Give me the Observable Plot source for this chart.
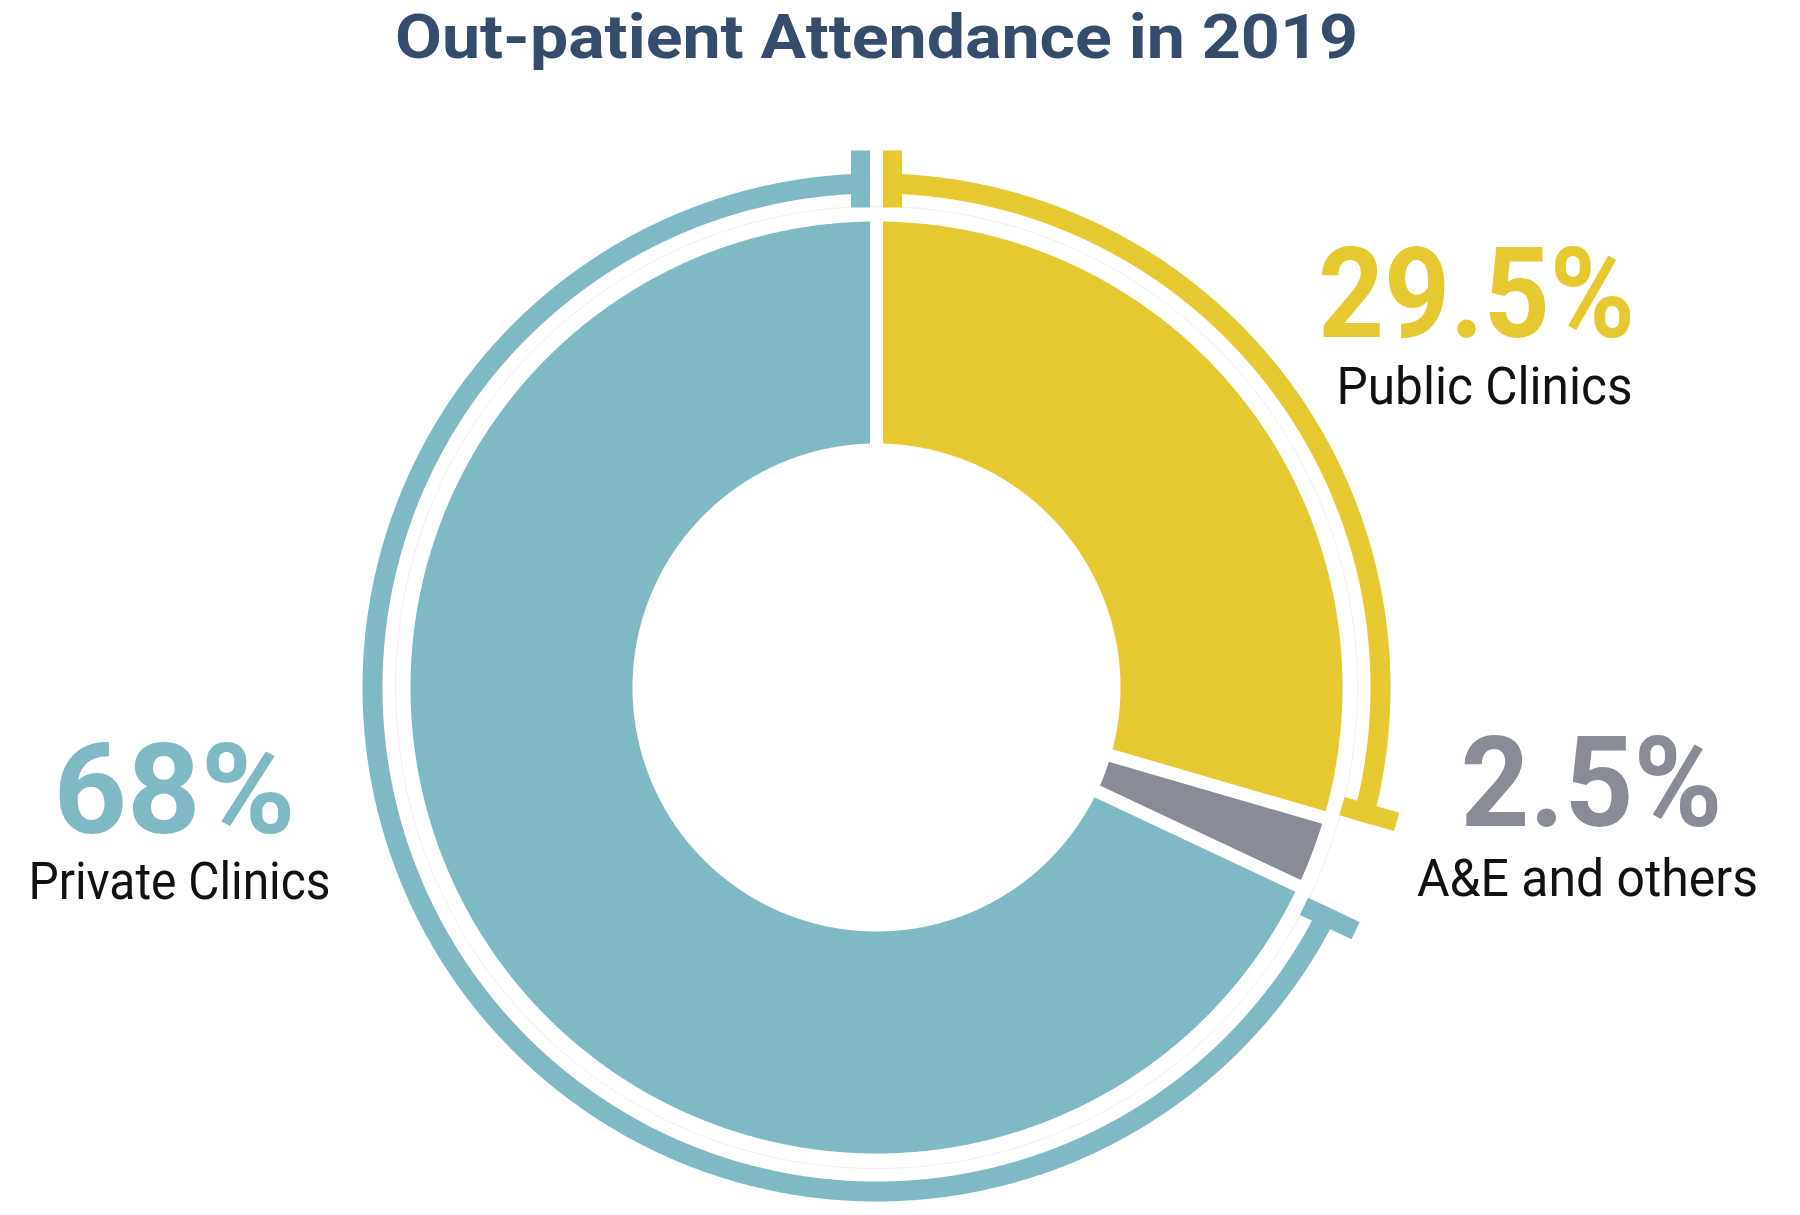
<!DOCTYPE html>
<html>
<head>
<meta charset="utf-8">
<script src="https://cdn.jsdelivr.net/npm/d3@7"></script>
<script src="https://cdn.jsdelivr.net/npm/@observablehq/plot@0.6"></script>
<style>
  html, body { margin: 0; padding: 0; background: #ffffff; }
  #wrap { width: 1800px; height: 1215px; overflow: hidden; background: #ffffff; }
  #title { position: relative; width: 1800px; height: 90px; }
  #titleText { position: absolute; left: 395px; top: 4px; font-family: Roboto, "DejaVu Sans", sans-serif;
    font-weight: 700; font-size: 61px; line-height: 1.1; white-space: nowrap; color: #364c6c; transform-origin: 0 0; }
  #chart svg { display: block; }
</style>
</head>
<body>
<div id="wrap">
  <div id="title"><span id="titleText"></span></div>
  <div id="chart"></div>
</div>
<script>
// ---------- data ----------
const titleText = "Out-patient Attendance in 2019";
const categories = ["Public Clinics", "A&E and others", "Private Clinics"];
const shares = [29.5, 2.5, 68];
const palette = ["#e6c831", "#898c97", "#7fbac4"];
const ringed = [true, false, true];

// ---------- layout (pixels, chart centre at origin, y up) ----------
const W = 1800, TITLE_H = 90, H = 1215 - TITLE_H;
const CX = 876, CY = 597;                  // centre inside the svg
const R_IN = 244, R_OUT = 466;             // donut
const RING_IN = 494, RING_OUT = 514;       // outer band
const HALO = 481;                          // faint guide circle
const TICK_IN = 480, TICK_OUT = 537, TICK_W = 19;
const HALF_GAP = 6.5;
const pctLayout = [[600, 351], [715, -138], [-702, -145]];
const nameLayout = [[608, 284], [711, -208], [-697, -211]];
const pctWidths = [317, 262, 242];
const nameWidths = [296, 341, 302];
const TITLE_W = 963;

// ---------- title ----------
const tspan = document.getElementById("titleText");
tspan.textContent = titleText;
const tw = tspan.getBoundingClientRect().width;
tspan.style.transform = `scaleX(${TITLE_W / tw})`;

// ---------- geometry from data ----------
const total = d3.sum(shares);
const starts = d3.cumsum([0, ...shares.slice(0, -1)]).map(v => v / total * 2 * Math.PI);
const ends = starts.map((s, i) => s + shares[i] / total * 2 * Math.PI);

function band(a0, a1, rIn, rOut) {
  const pts = [];
  const oo = Math.asin(HALF_GAP / rOut), oi = Math.asin(HALF_GAP / rIn);
  const so = a0 + oo, eo = a1 - oo, si = a0 + oi, ei = a1 - oi;
  const no = Math.max(2, Math.ceil((eo - so) / (Math.PI / 720)));
  const ni = Math.max(2, Math.ceil((ei - si) / (Math.PI / 720)));
  for (let k = 0; k <= no; k++) { const t = so + (eo - so) * k / no; pts.push([rOut * Math.sin(t), rOut * Math.cos(t)]); }
  for (let k = ni; k >= 0; k--) { const t = si + (ei - si) * k / ni; pts.push([rIn * Math.sin(t), rIn * Math.cos(t)]); }
  return pts;
}
function tick(a, side) {
  const u = [Math.sin(a), Math.cos(a)], v = [Math.cos(a), -Math.sin(a)];
  const s1 = side * HALF_GAP, s2 = side * (HALF_GAP + TICK_W);
  return [[TICK_IN, s1], [TICK_OUT, s1], [TICK_OUT, s2], [TICK_IN, s2]]
    .map(([r, s]) => [r * u[0] + s * v[0], r * u[1] + s * v[1]]);
}

const rows = [];
categories.forEach((cat, i) => {
  const add = (id, pts) => pts.forEach(([x, y]) => rows.push({id, cat, x, y}));
  add(`slice-${i}`, band(starts[i], ends[i], R_IN, R_OUT));
  if (ringed[i]) {
    add(`ring-${i}`, band(starts[i], ends[i], RING_IN, RING_OUT));
    add(`tickA-${i}`, tick(starts[i], 1));
    add(`tickB-${i}`, tick(ends[i], -1));
  }
});
const halo = d3.range(0, 361).map(d => ({x: HALO * Math.sin(d * Math.PI / 180), y: HALO * Math.cos(d * Math.PI / 180)}));

const idx = d3.range(categories.length);

const chart = Plot.plot({
  width: W,
  height: H,
  margin: 0,
  x: {domain: [-CX, W - CX], range: [0, W], axis: null},
  y: {domain: [CY - H, CY], range: [H, 0], axis: null},
  color: {domain: categories, range: palette},
  style: {background: "#ffffff", fontFamily: "Roboto, sans-serif"},
  marks: [
    Plot.line(halo, {x: "x", y: "y", stroke: "#efefef", strokeWidth: 1, curve: "linear"}),
    Plot.line(rows, {x: "x", y: "y", z: "id", fill: "cat", stroke: "none", curve: "linear"}),
    Plot.text(idx, {
      x: i => pctLayout[i][0], y: i => pctLayout[i][1],
      text: i => `${shares[i]}%`, fill: i => categories[i],
      fontSize: 126, fontWeight: 700, fontFamily: "Roboto, sans-serif",
      textAnchor: "middle", lineAnchor: "bottom"
    }),
    Plot.text(idx, {
      x: i => nameLayout[i][0], y: i => nameLayout[i][1],
      text: i => categories[i], fill: "#111111",
      fontSize: 51, fontWeight: 400, fontFamily: "Roboto, sans-serif",
      textAnchor: "middle", lineAnchor: "bottom"
    })
  ]
});
document.getElementById("chart").appendChild(chart);

// squeeze the label texts to the condensed widths of the reference
const widths = [...pctWidths, ...nameWidths];
d3.select(chart).selectAll("text").each(function (_, i) {
  if (i < widths.length) {
    this.setAttribute("textLength", widths[i]);
    this.setAttribute("lengthAdjust", "spacingAndGlyphs");
  }
});
</script>
</body>
</html>
